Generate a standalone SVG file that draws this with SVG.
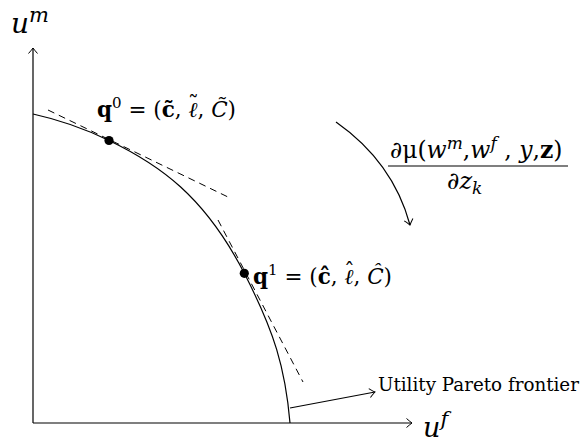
<svg xmlns="http://www.w3.org/2000/svg" width="581" height="443" viewBox="0 0 581 443">
<defs>
<marker id="to" markerUnits="userSpaceOnUse" markerWidth="12" markerHeight="12" refX="0" refY="0" viewBox="-7 -6 8 12" orient="auto">
<path d="M-5.5,-4.5 Q-1.5,-1 0,0 Q-1.5,1 -5.5,4.5" fill="none" stroke="#000" stroke-width="1"/>
</marker>
<style>
.ln{fill:none;stroke:#000;stroke-width:1.2}
.dash{fill:none;stroke:#000;stroke-width:1;stroke-dasharray:7 5}
.t{font-family:"DejaVu Serif","Liberation Serif",serif;fill:#000}
.m{font-family:"DejaVu Serif","Liberation Serif",serif;font-style:italic;fill:#000}
.b{font-weight:bold;font-style:normal}
.i{font-style:italic}
</style>
</defs>
<rect width="581" height="443" fill="#fff"/>
<g id="connectors">
<path class="ln" d="M33,423 V48" marker-end="url(#to)"/>
<path class="ln" d="M33,423 H412" marker-end="url(#to)"/>
<path class="ln" d="M336,122 Q393,162 410,225" marker-end="url(#to)"/>
<path class="ln" d="M290,408 L375,392" marker-end="url(#to)"/>
</g>
<g id="frontier">
<path class="ln" d="M33,114 C58,119.5 84,128.3 109,140.5 C159,164.5 204.3,195.7 244.3,273.3 C274.3,331.5 285.3,368 290,423"/>
</g>
<g id="tangent0"><path class="dash" d="M48,110 L228,197"/></g>
<g id="tangent1"><path class="dash" d="M218,220 L303,382"/></g>
<g id="q0">
<circle cx="109" cy="140.5" r="4.6" fill="#000"/>
<text class="t" x="97" y="117" font-size="21.5"><tspan class="b">q</tspan><tspan dy="-9" font-size="15">0</tspan><tspan dy="9"> = (</tspan><tspan class="b">c&#x303;</tspan>, <tspan class="i">ℓ</tspan><tspan dx="-9.5" dy="-5">˜</tspan><tspan dx="-1.2" dy="5">, </tspan><tspan class="i">C&#x303;</tspan>)</text>
</g>
<g id="q1">
<circle cx="244.3" cy="273.3" r="4.6" fill="#000"/>
<text class="t" x="253" y="284" font-size="21.5"><tspan class="b">q</tspan><tspan dy="-9" font-size="15">1</tspan><tspan dy="9"> = (</tspan><tspan class="b">c&#x302;</tspan>, <tspan class="i">ℓ</tspan><tspan dx="-9.5" dy="-5">ˆ</tspan><tspan dx="-1.2" dy="5">, </tspan><tspan class="i">C&#x302;</tspan>)</text>
</g>
<g id="derivative">
<text class="t" x="390" y="158" font-size="23.5">∂μ(<tspan class="i">w</tspan><tspan class="i" dy="-9" font-size="17">m</tspan><tspan dy="9">,</tspan><tspan class="i">w</tspan><tspan class="i" dy="-9" font-size="17">f</tspan><tspan dy="9"> , </tspan><tspan class="i">y</tspan>,<tspan class="b">z</tspan>)</text>
<line x1="388" y1="166" x2="568" y2="166" stroke="#000" stroke-width="1.2"/>
<text class="t" x="447" y="189" font-size="24">∂<tspan class="i">z</tspan><tspan class="i" dy="5" font-size="17">k</tspan></text>
</g>
<g id="label-um"><text class="m" x="11" y="33" font-size="28">u<tspan dy="-11" font-size="21">m</tspan></text></g>
<g id="label-uf"><text class="m" x="423" y="437" font-size="27">u<tspan dy="-11" font-size="21">f</tspan></text></g>
<g id="label-frontier"><text class="t" x="378" y="391" font-size="18.3">Utility Pareto frontier</text></g>
</svg>
